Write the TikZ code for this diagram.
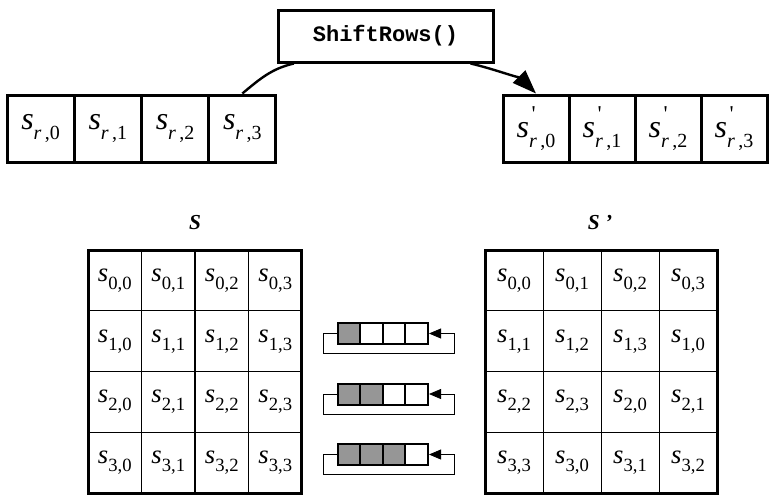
\documentclass[tikz,border=0pt]{standalone}
\usepackage{fontspec}
\setmainfont{Liberation Serif}
\setmonofont{Liberation Mono}
\usetikzlibrary{arrows.meta,calc}
\definecolor{gris}{RGB}{150,150,150}

\newcommand{\etat}[2]{\textit{s}\raisebox{-0.3em}{\fontsize{14}{14}\selectfont #1,#2}}
\newcommand{\ligne}[1]{\textit{s}\raisebox{-0.32em}{\fontsize{15}{15}\selectfont\textit{r}\,,#1}}
\newcommand{\lignep}[1]{\textit{s}\rlap{\hspace{0.08em}\raisebox{0.5em}{\fontsize{17}{17}\selectfont\textquotesingle}}\raisebox{-0.32em}{\fontsize{15}{15}\selectfont\textit{r}\,,#1}}

\begin{document}
\begin{tikzpicture}[x=0.75pt,y=-0.75pt]
\tikzset{boite/.style={draw, line width=2.25pt, minimum width=161.25pt, minimum height=39pt, font=\ttfamily\bfseries\fontsize{16.5}{18}\selectfont},
caseligne/.style={draw, line width=2.25pt, minimum height=50.25pt, inner sep=0pt, font=\fontsize{24}{26}\selectfont},
casemat/.style={draw, line width=0.75pt, outer sep=0pt, inner sep=0pt, minimum height=45.56pt, font=\fontsize{20}{22}\selectfont},
casedec/.style={draw, line width=1.5pt, minimum width=16.9pt, minimum height=15.75pt, inner sep=0pt},
titre/.style={font=\bfseries\itshape\fontsize{16}{18}\selectfont},
boucle/.style={line width=0.6pt, -{Triangle[length=9pt,width=7.5pt]}}}
\useasboundingbox (0,0) rectangle (771,500);
\node[boite] (box) at (385.5,36) {ShiftRows()};
\foreach \k in {0,...,3} {
  \node[caseligne, minimum width=50.4pt] (L\k) at (40.6+67.25*\k,128.5) {\ligne{\k}};
  \node[caseligne, minimum width=49.5pt] (R\k) at (536+66*\k,128.5) {\lignep{\k}};
}
\coordinate (p1) at ($(box.south west)!0.08!(box.south east)$);
\coordinate (p2) at ($(box.south west)!0.89!(box.south east)$);
\draw[line width=1.8pt] (L3.north) .. controls +(18,-15) and +(-22,5) .. (p1);
\draw[line width=1.8pt, -{Triangle[length=18pt,width=13pt]}] (p2) .. controls +(22,5) and +(-14,-14) .. (R0.north);
\node[titre] (tS) at (195,223) {S};
\node[titre] (tSp) at (600,223) {S ’};
\foreach \r in {0,...,3}
  \foreach \c in {0,...,3} {
    \pgfmathtruncatemacro{\k}{mod(\c+\r,4)}
    \node[casemat, minimum width=40.1pt] (A\r\c) at (114.75+53.5*\c,280.4+60.75*\r) {\etat{\r}{\c}};
    \node[casemat, minimum width=43.5pt] (B\r\c) at (514+58*\c,280.4+60.75*\r) {\etat{\r}{\k}};
  }
\draw[line width=2.25pt] (A00.north west) rectangle (A33.south east);
\draw[line width=2.25pt] (B00.north west) rectangle (B33.south east);
\foreach \r/\y in {1/333.5, 2/394, 3/454.5} {
  \foreach \c in {0,...,3} {
    \ifnum\c<\r \def\teinte{gris}\else\def\teinte{white}\fi
    \node[casedec, fill=\teinte] (D\r\c) at (349.25+22.5*\c,\y) {};
  }
  \draw[boucle] (D\r0.west) -- ++(-14,0) |- ($(D\r3.east)+(25,20)$) |- (D\r3.east);
}
\end{tikzpicture}
\end{document}
